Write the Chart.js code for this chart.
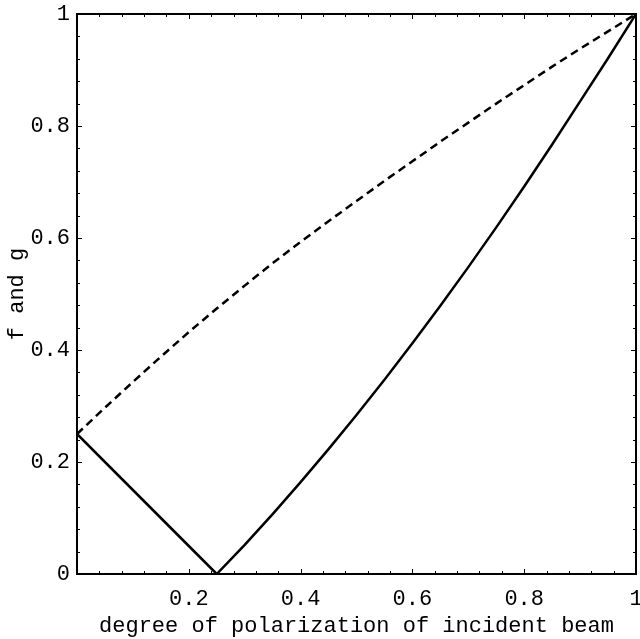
<!DOCTYPE html>
<html>
<head>
<meta charset="utf-8">
<script src="https://cdn.jsdelivr.net/npm/chart.js@4/dist/chart.umd.min.js"></script>
<style>
    html, body { margin: 0; padding: 0; background: #fff; }
    #wrap { width: 640px; height: 639px; }
</style>
</head>
<body>
<div id="wrap"><canvas id="chart" width="640" height="639"></canvas></div>
<script>
// Degree of polarization of the incident beam (x)
const polarization = [0, 0.05, 0.1, 0.15, 0.2, 0.25, 0.3, 0.35, 0.4, 0.45, 0.5,
    0.55, 0.6, 0.65, 0.7, 0.75, 0.8, 0.85, 0.9, 0.95, 1];

// f (solid) and g (dashed)
const fValues = [0.25, 0.2, 0.15, 0.1, 0.05, 0, 0.052, 0.107, 0.164, 0.223, 0.284,
    0.347, 0.412, 0.479, 0.548, 0.619, 0.692, 0.767, 0.844, 0.921, 1];
const gValues = [0.25, 0.297, 0.343, 0.388, 0.432, 0.474, 0.515, 0.555, 0.593, 0.63, 0.666,
    0.702, 0.737, 0.772, 0.806, 0.84, 0.873, 0.906, 0.938, 0.969, 1];

// Tick labels
const xTickLabels = ['', '0.2', '0.4', '0.6', '0.8', '1'];
const yTickLabels = ['0', '0.2', '0.4', '0.6', '0.8', '1'];

const FONT = { family: '"Liberation Mono", "Courier New", monospace', size: 22 };

function toPoints(xs, ys) {
    return xs.map((x, i) => ({ x: x, y: ys[i] }));
}

// Frame plus small inward ticks on all four sides
const framePlugin = {
    id: 'frame',
    afterDatasetsDraw(chart) {
        const { ctx, chartArea: a, scales } = chart;
        ctx.save();
        ctx.strokeStyle = '#000';
        ctx.lineWidth = 1;
        for (let i = 0; i <= 25; i++) {
            const v = i * 0.04;
            const len = (i % 5 === 0) ? 5 : 3;
            const px = Math.round(scales.x.getPixelForValue(v)) + 0.5;
            const py = Math.round(scales.y.getPixelForValue(v)) + 0.5;
            ctx.beginPath();
            ctx.moveTo(px, a.bottom); ctx.lineTo(px, a.bottom - len);
            ctx.moveTo(px, a.top); ctx.lineTo(px, a.top + len);
            ctx.moveTo(a.left, py); ctx.lineTo(a.left + len, py);
            ctx.moveTo(a.right, py); ctx.lineTo(a.right - len, py);
            ctx.stroke();
        }
        ctx.lineWidth = 2;
        ctx.strokeRect(a.left, a.top, a.right - a.left, a.bottom - a.top);
        ctx.restore();
    }
};

function initChart() {
    const ctx = document.getElementById('chart').getContext('2d');
    new Chart(ctx, {
        type: 'scatter',
        data: {
            datasets: [
                {
                    label: 'g',
                    data: toPoints(polarization, gValues),
                    showLine: true,
                    borderColor: '#000',
                    borderWidth: 2.5,
                    borderDash: [8, 5],
                    pointRadius: 0,
                    tension: 0
                },
                {
                    label: 'f',
                    data: toPoints(polarization, fValues),
                    showLine: true,
                    borderColor: '#000',
                    borderWidth: 2.5,
                    pointRadius: 0,
                    tension: 0
                }
            ]
        },
        options: {
            responsive: false,
            animation: false,
            layout: { padding: { top: 14, right: 4, left: 0, bottom: 0 } },
            plugins: {
                legend: { display: false },
                tooltip: { enabled: false }
            },
            scales: {
                x: {
                    type: 'linear',
                    min: 0,
                    max: 1,
                    afterFit: (scale) => {
                        scale.height = 65;
                        scale.paddingLeft = 0;
                        scale.paddingRight = 0;
                    },
                    grid: { display: false, drawTicks: false },
                    border: { display: false },
                    ticks: {
                        stepSize: 0.2,
                        padding: 12,
                        color: '#000',
                        font: FONT,
                        maxRotation: 0,
                        callback: (value, index) => xTickLabels[index]
                    },
                    title: {
                        display: true,
                        text: 'degree of polarization of incident beam',
                        color: '#000',
                        font: FONT,
                        padding: 0
                    }
                },
                y: {
                    type: 'linear',
                    min: 0,
                    max: 1,
                    afterFit: (scale) => {
                        scale.width = 77;
                        scale.paddingTop = 0;
                        scale.paddingBottom = 0;
                    },
                    grid: { display: false, drawTicks: false },
                    border: { display: false },
                    ticks: {
                        stepSize: 0.2,
                        padding: 7,
                        color: '#000',
                        font: FONT,
                        callback: (value, index) => yTickLabels[index]
                    },
                    title: {
                        display: true,
                        text: 'f and g',
                        color: '#000',
                        font: FONT,
                        padding: 4
                    }
                }
            }
        },
        plugins: [framePlugin]
    });
}

document.addEventListener('DOMContentLoaded', initChart);
</script>
</body>
</html>
